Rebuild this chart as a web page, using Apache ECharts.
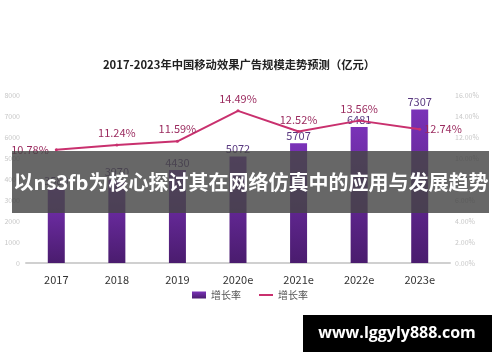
<!DOCTYPE html>
<html><head><meta charset="utf-8">
<script src="https://cdn.jsdelivr.net/npm/echarts@6/dist/echarts.min.js"></script>
<style>html,body{margin:0;padding:0;background:#fff}#c{width:500px;height:362px}</style>
</head><body><div id="c"></div>
<script>
const categories = ['2017','2018','2019','2020e','2021e','2022e','2023e'];
const scaleValues = [3580, 3970, 4430, 5072, 5707, 6481, 7307];
const growthRates = [10.78, 11.24, 11.59, 14.49, 12.52, 13.56, 12.74];
const leftTicks = {min: 0, max: 8000, interval: 1000};
const rightTicks = {min: 0, max: 16, interval: 2};

const chart = echarts.init(document.getElementById('c'));
const font = '"Noto Sans CJK SC","Noto Sans",sans-serif';
chart.setOption({
  animation: false,
  textStyle: {fontFamily: font},
  title: {
    text: '2017-2023年中国移动效果广告规模走势预测（亿元）',
    left: 234, top: 54, textAlign: 'center',
    textStyle: {fontSize: 11.3, fontWeight: 'bold', color: '#222', fontFamily: font}
  },
  legend: {
    bottom: 57, left: 'center', itemGap: 18, itemWidth: 14, itemHeight: 7,
    textStyle: {fontSize: 10, color: '#555'},
    data: [{name: '增长率', icon: 'rect'}, {name: '增长率\u200b', icon: 'path://M0,0L14,0L14,2L0,2Z'}]
  },
  grid: {left: 26, right: 50, top: 95, bottom: 99},
  xAxis: {
    type: 'category', data: categories,
    axisLine: {lineStyle: {color: '#d0d0d0', width: 2}},
    axisTick: {show: false},
    axisLabel: {color: '#333', fontSize: 11, margin: 11}
  },
  yAxis: [
    {type: 'value', ...leftTicks, splitLine: {show: false},
     axisLabel: {color: '#c8c8c8', fontSize: 7, margin: 6, formatter: v => String(v)}},
    {type: 'value', ...rightTicks, splitLine: {show: false},
     axisLabel: {color: '#c8c8c8', fontSize: 7, margin: 5, formatter: v => v.toFixed(2) + '%'}}
  ],
  series: [
    {
      name: '增长率', type: 'bar', data: scaleValues, barWidth: 17,
      itemStyle: {color: new echarts.graphic.LinearGradient(0, 0, 0, 1, [
        {offset: 0, color: '#7a32b8'}, {offset: 1, color: '#4a1c6e'}])},
      label: {show: true, position: 'top', distance: 2, color: '#5a3a80', fontSize: 11}
    },
    {
      name: '增长率\u200b', type: 'line', yAxisIndex: 1, data: growthRates.map((v, i) => {
        const o = {value: v};
        if (i === 0) o.label = {position: 'left', distance: 6};
        if (i === categories.length - 1) o.label = {position: 'right', distance: 3};
        return o;
      }),
      symbol: 'circle', symbolSize: 3, showSymbol: true,
      lineStyle: {color: '#c9306e', width: 2},
      itemStyle: {color: '#c9306e'},
      label: {show: true, position: 'top', distance: 5, color: '#9a2a5e', fontSize: 11,
              formatter: p => p.value.toFixed(2) + '%'}
    }
  ],
  graphic: [
    {type: 'rect', z: 100, shape: {x: 12, y: 151, width: 477, height: 62},
     style: {fill: 'rgba(70,70,70,0.82)'}},
    {type: 'text', z: 101, x: 251, y: 182,
     style: {text: '以ns3fb为核心探讨其在网络仿真中的应用与发展趋势', fill: '#fff',
             font: 'bold 20px ' + font, textAlign: 'center', textVerticalAlign: 'middle'}},
    {type: 'rect', z: 100, shape: {x: 303, y: 315, width: 189, height: 37},
     style: {fill: '#000'}},
    {type: 'text', z: 101, x: 397, y: 333,
     style: {text: 'www.lggyly888.com', fill: '#fff',
             font: 'bold 16px "Open Sans",sans-serif', textAlign: 'center', textVerticalAlign: 'middle'}}
  ]
});
</script></body></html>
